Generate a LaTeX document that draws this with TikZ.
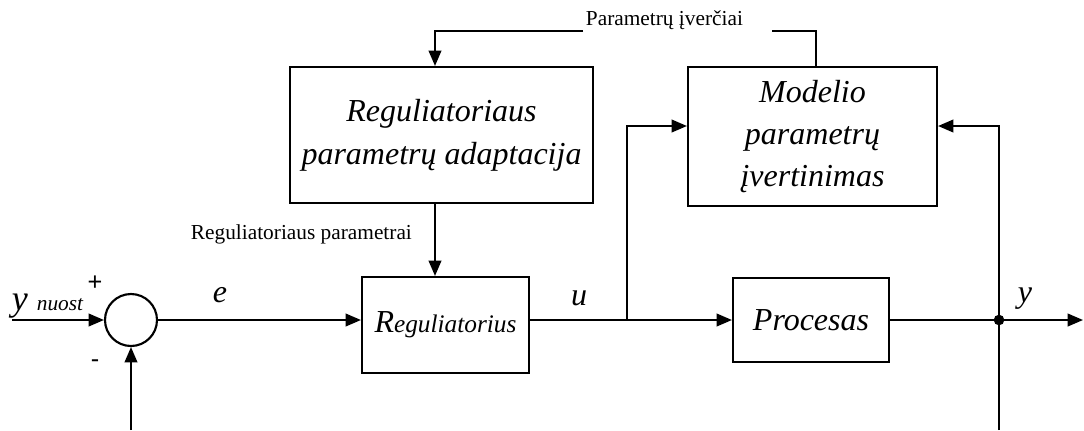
\documentclass[tikz,border=0pt]{standalone}
\usepackage{fontspec}
\setmainfont{Liberation Serif}
\newfontfamily\signfont{Liberation Sans}
\usetikzlibrary{arrows.meta}
\begin{document}
\begin{tikzpicture}[x=0.75pt,y=-0.75pt,
  >={Triangle[length=11.5pt,width=9.5pt]},
  line width=1.4pt,
  blk/.style={draw, line width=1.6pt, inner sep=0pt, align=center,
    font=\fontsize{24}{32}\selectfont\itshape},
  lbl/.style={font=\fontsize{16}{18}\selectfont, inner sep=0pt},
  sig/.style={font=\fontsize{24}{28}\selectfont\itshape, inner sep=0pt},
  sgn/.style={font=\signfont\fontsize{19}{20}\selectfont, inner sep=0pt}]
\useasboundingbox (0,0) rectangle (1084,430);

% blocks
\node (ad) [blk, minimum width=227.25pt, minimum height=102pt] at (441.5,135)
  {Reguliatoriaus\\parametrų adaptacija};
\node (mp) [blk, minimum width=186.75pt, minimum height=104.25pt,
  font=\fontsize{24}{31.5}\selectfont\itshape] at (812.5,136.5)
  {Modelio\\parametrų\\įvertinimas};
\node (rg) [blk, minimum width=125.25pt, minimum height=72pt] at (445.5,325)
  {\fontsize{24}{28}\selectfont R\fontsize{19}{24}\selectfont eguliatorius};
\node (pr) [blk, minimum width=117pt, minimum height=63pt] at (811,320)
  {Procesas};
\node (sum) [draw, circle, line width=1.6pt, minimum size=39pt, inner sep=0pt] at (131,320) {};

% helper coordinates
\coordinate (tx) at (435,0);
\coordinate (mtop) at (816,0);
\coordinate (my) at (0,126);
\coordinate (gapL) at (583,31);
\coordinate (gapR) at (772,31);
\coordinate (br) at (627,320);
\coordinate (tap) at (999,320);
\coordinate (in) at (12,320);
\coordinate (out) at (1083,320);
\coordinate (fbL) at (131,430);
\coordinate (fbR) at (999,430);

% connectors
\draw[->] (in) -- (sum.west);
\draw[->] (fbL) -- (sum.south);
\draw[->] (sum.east) -- (sum.east -| rg.west);
\draw[->] (rg.east |- pr.west) -- (pr.west);
\draw[->] (br) |- (mp.west |- my);
\draw[->] (pr.east) -- (out);
\draw[->] (fbR) |- (mp.east |- my);
\draw[->] (ad.south -| tx) -- (rg.north -| tx);
\draw (mp.north -| mtop) |- (gapR);
\draw[->] (gapL) -| (ad.north -| tx);
\fill (tap) circle (4pt);

% labels
\node[lbl, anchor=base west] (lpe) at (585,25) {Parametrų įverčiai};
\node[lbl, anchor=base west] (lrp) at (190,239) {Reguliatoriaus parametrai};
\node[anchor=base west, inner sep=0pt] (lyn) at (11,310)
  {\fontsize{27}{30}\selectfont\itshape y \fontsize{16}{18}\selectfont nuost};
\node[sgn] (lplus) at (95,283) {+};
\node[sgn] (lminus) at (95,364) {-};
\node[sig, anchor=base] (le) at (220,302) {e};
\node[sig, anchor=base] (lu) at (579,305) {u};
\node[sig, anchor=base] (ly) at (1025,302) {y};
\end{tikzpicture}
\end{document}
